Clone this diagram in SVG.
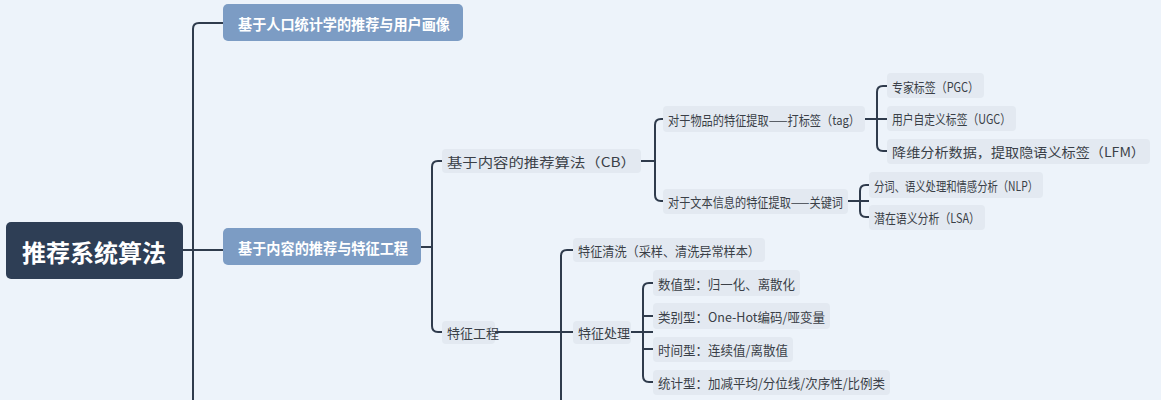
<svg xmlns="http://www.w3.org/2000/svg" width="1161" height="400" viewBox="0 0 1161 400">
<style>
.t{font-family:"Noto Sans CJK SC","Noto Sans",sans-serif;font-size:13px;fill:#3a3f47;dominant-baseline:central}
.b{fill:#e3e9f1}
.m{fill:#7c9cc4}
.mt{font-family:"Noto Sans CJK SC",sans-serif;font-size:15px;font-weight:bold;fill:#fff;dominant-baseline:central}
.c{fill:none;stroke:#2f3b4c;stroke-width:2}
</style>
<rect width="1161" height="400" fill="#edf3fa"/>
<g id="connectors">
<path class="c" d="M183 250H223M223 23H199Q193 23 193 29V400"/>
<path class="c" d="M421 247H432M443 161H438Q432 161 432 167V326Q432 332 438 332H443"/>
<path class="c" d="M641 161H655M663 119H661Q655 119 655 125V195Q655 201 661 201H663"/>
<path class="c" d="M865 119H887M887 86H883Q877 86 877 92V145Q877 151 883 151H887"/>
<path class="c" d="M848 201H869M869 185H866Q860 185 860 191V211Q860 217 866 217H869"/>
<path class="c" d="M495 332H573M573 250H567Q561 250 561 256V400"/>
<path class="c" d="M631 332H653M653 283H649Q643 283 643 289V376Q643 382 649 382H653M643 316H653M643 349H653"/>
</g>
<g id="root"><rect x="6" y="222" width="177" height="57" rx="5" fill="#2e3e55"/><text x="94" y="251" text-anchor="middle" style="font-family:'Noto Sans CJK SC',sans-serif;font-size:24px;font-weight:bold;fill:#fff;dominant-baseline:central">推荐系统算法</text></g>
<g id="n1"><rect class="m" x="223" y="4" width="240" height="37" rx="5"/><text class="mt" x="238" y="23" textLength="212" lengthAdjust="spacingAndGlyphs">基于人口统计学的推荐与用户画像</text></g>
<g id="n2"><rect class="m" x="223" y="228" width="198" height="37" rx="5"/><text class="mt" x="238" y="247" textLength="170" lengthAdjust="spacingAndGlyphs">基于内容的推荐与特征工程</text></g>
<g id="cb"><rect class="b" x="442" y="149" width="199" height="24" rx="4"/><text class="t" x="447" y="161" textLength="189" lengthAdjust="spacingAndGlyphs">基于内容的推荐算法（CB）</text></g>
<g id="fe"><rect class="b" x="442" y="321" width="53" height="23" rx="4"/><text class="t" x="447" y="332">特征工程</text></g>
<g id="tag"><rect class="b" x="663" y="106" width="202" height="26" rx="4"/><text class="t" x="668" y="119" textLength="192" lengthAdjust="spacingAndGlyphs">对于物品的特征提取——打标签（tag）</text></g>
<g id="kw"><rect class="b" x="663" y="189" width="185" height="25" rx="4"/><text class="t" x="668" y="201" textLength="175" lengthAdjust="spacingAndGlyphs">对于文本信息的特征提取——关键词</text></g>
<g id="pgc"><rect class="b" x="887" y="73" width="97" height="25" rx="4"/><text class="t" x="892" y="86" textLength="87" lengthAdjust="spacingAndGlyphs">专家标签（PGC）</text></g>
<g id="ugc"><rect class="b" x="887" y="106" width="129" height="25" rx="4"/><text class="t" x="892" y="118" textLength="119" lengthAdjust="spacingAndGlyphs">用户自定义标签（UGC）</text></g>
<g id="lfm"><rect class="b" x="887" y="139" width="263" height="25" rx="4"/><text class="t" x="892" y="151" textLength="253" lengthAdjust="spacingAndGlyphs">降维分析数据，提取隐语义标签（LFM）</text></g>
<g id="nlp"><rect class="b" x="869" y="172" width="174" height="26" rx="4"/><text class="t" x="874" y="185" textLength="164" lengthAdjust="spacingAndGlyphs">分词、语义处理和情感分析（NLP）</text></g>
<g id="lsa"><rect class="b" x="869" y="205" width="116" height="25" rx="4"/><text class="t" x="874" y="217" textLength="106" lengthAdjust="spacingAndGlyphs">潜在语义分析（LSA）</text></g>
<g id="clean"><rect class="b" x="573" y="238" width="192" height="24" rx="4"/><text class="t" x="578" y="250" textLength="182" lengthAdjust="spacingAndGlyphs">特征清洗（采样、清洗异常样本）</text></g>
<g id="proc"><rect class="b" x="573" y="321" width="58" height="23" rx="4"/><text class="t" x="578" y="332">特征处理</text></g>
<g id="num"><rect class="b" x="653" y="270" width="147" height="26" rx="4"/><text class="t" x="658" y="283" textLength="137" lengthAdjust="spacingAndGlyphs">数值型：归一化、离散化</text></g>
<g id="cat"><rect class="b" x="653" y="303" width="177" height="26" rx="4"/><text class="t" x="658" y="316" textLength="167" lengthAdjust="spacingAndGlyphs">类别型：One-Hot编码/哑变量</text></g>
<g id="time"><rect class="b" x="653" y="337" width="140" height="25" rx="4"/><text class="t" x="658" y="349" textLength="130" lengthAdjust="spacingAndGlyphs">时间型：连续值/离散值</text></g>
<g id="stat"><rect class="b" x="653" y="370" width="237" height="25" rx="4"/><text class="t" x="658" y="382" textLength="227" lengthAdjust="spacingAndGlyphs">统计型：加减平均/分位线/次序性/比例类</text></g>
</svg>
